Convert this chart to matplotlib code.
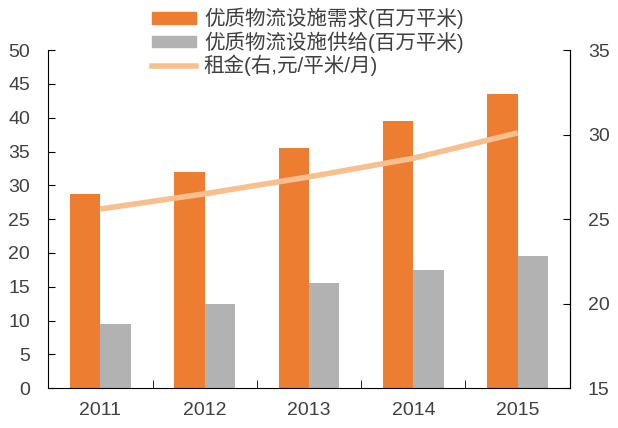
import numpy as np
import matplotlib
matplotlib.use("Agg")
import matplotlib.pyplot as plt
from matplotlib.patches import Patch
from matplotlib.lines import Line2D

plt.rcParams['font.family'] = ['Liberation Sans', 'Noto Sans CJK SC', 'DejaVu Sans']

years = ['2011', '2012', '2013', '2014', '2015']
demand = [28.7, 32.0, 35.5, 39.5, 43.5]
supply = [9.5, 12.5, 15.5, 17.5, 19.5]
rent = [25.6, 26.5, 27.5, 28.6, 30.1]

labels = ['优质物流设施需求(百万平米)', '优质物流设施供给(百万平米)', '租金(右,元/平米/月)']
c_demand = '#ED7D31'
c_supply = '#B2B2B2'
c_rent = '#F8C08F'
txt = '#404040'

fig = plt.figure(figsize=(6.18, 4.28), dpi=100)
ax = fig.add_axes([0.078, 0.093, 0.844, 0.79])
ax2 = ax.twinx()

x = np.arange(len(years))
w = 0.29
ax.bar(x - w / 2, demand, w, color=c_demand, zorder=2)
ax.bar(x + w / 2, supply, w, color=c_supply, zorder=2)
ax2.plot(x, rent, color=c_rent, lw=4, solid_capstyle='butt')

ax.set_xlim(-0.5, len(years) - 0.5)
ax.set_ylim(0, 50)
ax.set_yticks(np.arange(0, 51, 5))
ax2.set_ylim(15, 35)
ax2.set_yticks(np.arange(15, 36, 5))

ax.set_xticks(x)
ax.set_xticklabels(years)
ax.set_xticks(np.arange(0.5, len(years) - 0.5, 1), minor=True)
ax.tick_params(axis='x', which='major', length=0, pad=10, labelsize=14, labelcolor=txt)
ax.tick_params(axis='x', which='minor', direction='in', length=6)
ax.tick_params(axis='y', direction='in', length=5, labelsize=14, labelcolor=txt, pad=13)
ax2.tick_params(axis='y', direction='in', length=5, labelsize=14, labelcolor=txt, pad=13)

for a in (ax, ax2):
    a.spines['top'].set_visible(False)
ax2.spines['left'].set_visible(False)
ax2.spines['bottom'].set_visible(False)

handles = [Patch(color=c_demand), Patch(color=c_supply),
           Line2D([], [], color=c_rent, lw=4)]
fig.legend(handles, labels, loc='upper left', bbox_to_anchor=(0.22, 1.02),
           frameon=False, fontsize=14.8, handlelength=2.1, handleheight=0.5,
           labelspacing=0.1, handletextpad=0.4, borderpad=0.3, labelcolor=txt)

fig.savefig('out.png', dpi=100)
